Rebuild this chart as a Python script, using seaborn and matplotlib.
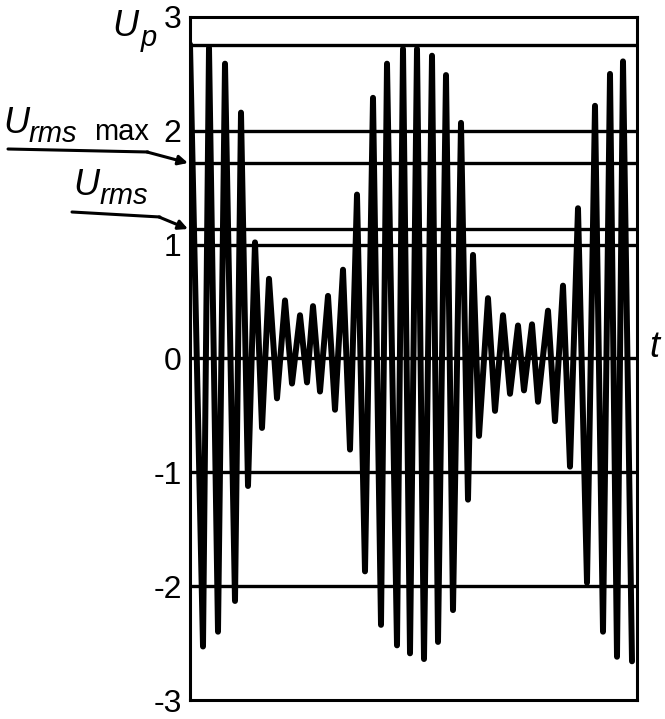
import matplotlib
matplotlib.use("Agg")
import matplotlib.pyplot as plt
import seaborn as sns
import pandas as pd
from matplotlib.lines import Line2D

# Peak / trough samples of the beating signal (t in arbitrary units, U in V)
t_peak = [0, 19, 35, 51, 65, 79, 95, 110, 123, 138, 153, 167, 183, 197, 213,
          227, 242, 256, 271, 283, 298, 313, 328, 342, 358, 373, 388, 405, 420, 433]
u_peak = [2.76, 2.73, 2.59, 2.16, 1.02, 0.70, 0.51, 0.38, 0.46, 0.55, 0.78, 1.44, 2.29, 2.59, 2.72,
          2.72, 2.66, 2.49, 2.07, 0.91, 0.53, 0.38, 0.29, 0.30, 0.42, 0.64, 1.32, 2.22, 2.50, 2.61]
t_trough = [13, 28, 45, 58, 72, 87, 102, 117, 130, 145, 160, 175, 191, 207, 220,
            234, 248, 263, 278, 289, 305, 320, 334, 348, 365, 380, 397, 413, 427, 442]
u_trough = [-2.53, -2.40, -2.13, -1.12, -0.61, -0.35, -0.22, -0.21, -0.29, -0.45, -0.80, -1.87, -2.34, -2.52, -2.59,
            -2.64, -2.49, -2.21, -1.24, -0.68, -0.46, -0.31, -0.28, -0.38, -0.55, -0.95, -1.97, -2.40, -2.62, -2.66]

u_p_max = 2.75
u_rms_max = 1.72
u_rms = 1.14
grid_levels = [2, 1, 0, -1, -2]
y_ticks = [3, 2, 1, 0, -1, -2, -3]

# interleave peaks and troughs into one zigzag
t_all, u_all = [], []
for tp, up, tt, ut in zip(t_peak, u_peak, t_trough, u_trough):
    t_all += [tp, tt]
    u_all += [up, ut]
df = pd.DataFrame({"t": t_all, "u": u_all})

sns.set_style("white")
plt.rcParams["font.family"] = ["Liberation Sans", "DejaVu Sans"]
plt.rcParams["text.color"] = "black"
plt.rcParams["ytick.color"] = "black"

W, H = 665, 719
fig = plt.figure(figsize=(W / 100, H / 100), dpi=100)
ax = fig.add_axes([190 / W, 1 - 700 / H, (637 - 190) / W, (700 - 17) / H])

for lv in grid_levels + [u_p_max, u_rms_max, u_rms]:
    ax.axhline(lv, color="black", lw=2.4, zorder=1)

sns.lineplot(data=df, x="t", y="u", sort=False, estimator=None, color="black",
             lw=4.3, ax=ax, zorder=2)
for l in ax.lines:
    l.set_solid_joinstyle("round")

ax.set_xlim(0, 447)
ax.set_ylim(-3, 3)
ax.set_xticks([])
ax.set_yticks(y_ticks)
ax.set_yticklabels([str(v) for v in y_ticks], fontsize=23, color="black")
ax.tick_params(axis="y", length=0, pad=6)
ax.set_xlabel("")
ax.set_ylabel("")
for s in ax.spines.values():
    s.set_color("black")
    s.set_linewidth(2.2)


def fx(px):
    return px / W


def fy(py):
    return 1 - py / H


def put(px, py, s, size, italic=True):
    fig.text(fx(px), fy(py), s, fontsize=size, style="italic" if italic else "normal",
             va="baseline", ha="left")


# U_p
put(112, 36, "U", 26)
put(141, 46, "p", 21)
# U_rms max
put(3, 133, "U", 26)
put(29, 142, "rms", 21)
put(94, 140, "max", 21, italic=False)
# U_rms
put(73, 195, "U", 26)
put(100, 204, "rms", 21)
# time axis label
put(649, 357, "t", 26)

# pointer lines with arrowheads
fig.add_artist(Line2D([fx(8), fx(148)], [fy(149), fy(152)], color="black", lw=2.2))
fig.add_artist(Line2D([fx(72), fx(160)], [fy(212), fy(217)], color="black", lw=2.2))
arrow = dict(arrowstyle="-|>", color="black", lw=2.2, mutation_scale=14, shrinkA=0, shrinkB=0)
ax.annotate("", xy=(fx(188), fy(163)), xycoords="figure fraction",
            xytext=(fx(147), fy(152)), textcoords="figure fraction", arrowprops=arrow,
            annotation_clip=False)
ax.annotate("", xy=(fx(188), fy(229)), xycoords="figure fraction",
            xytext=(fx(159), fy(217)), textcoords="figure fraction", arrowprops=arrow,
            annotation_clip=False)

fig.savefig("out.png", dpi=100)
